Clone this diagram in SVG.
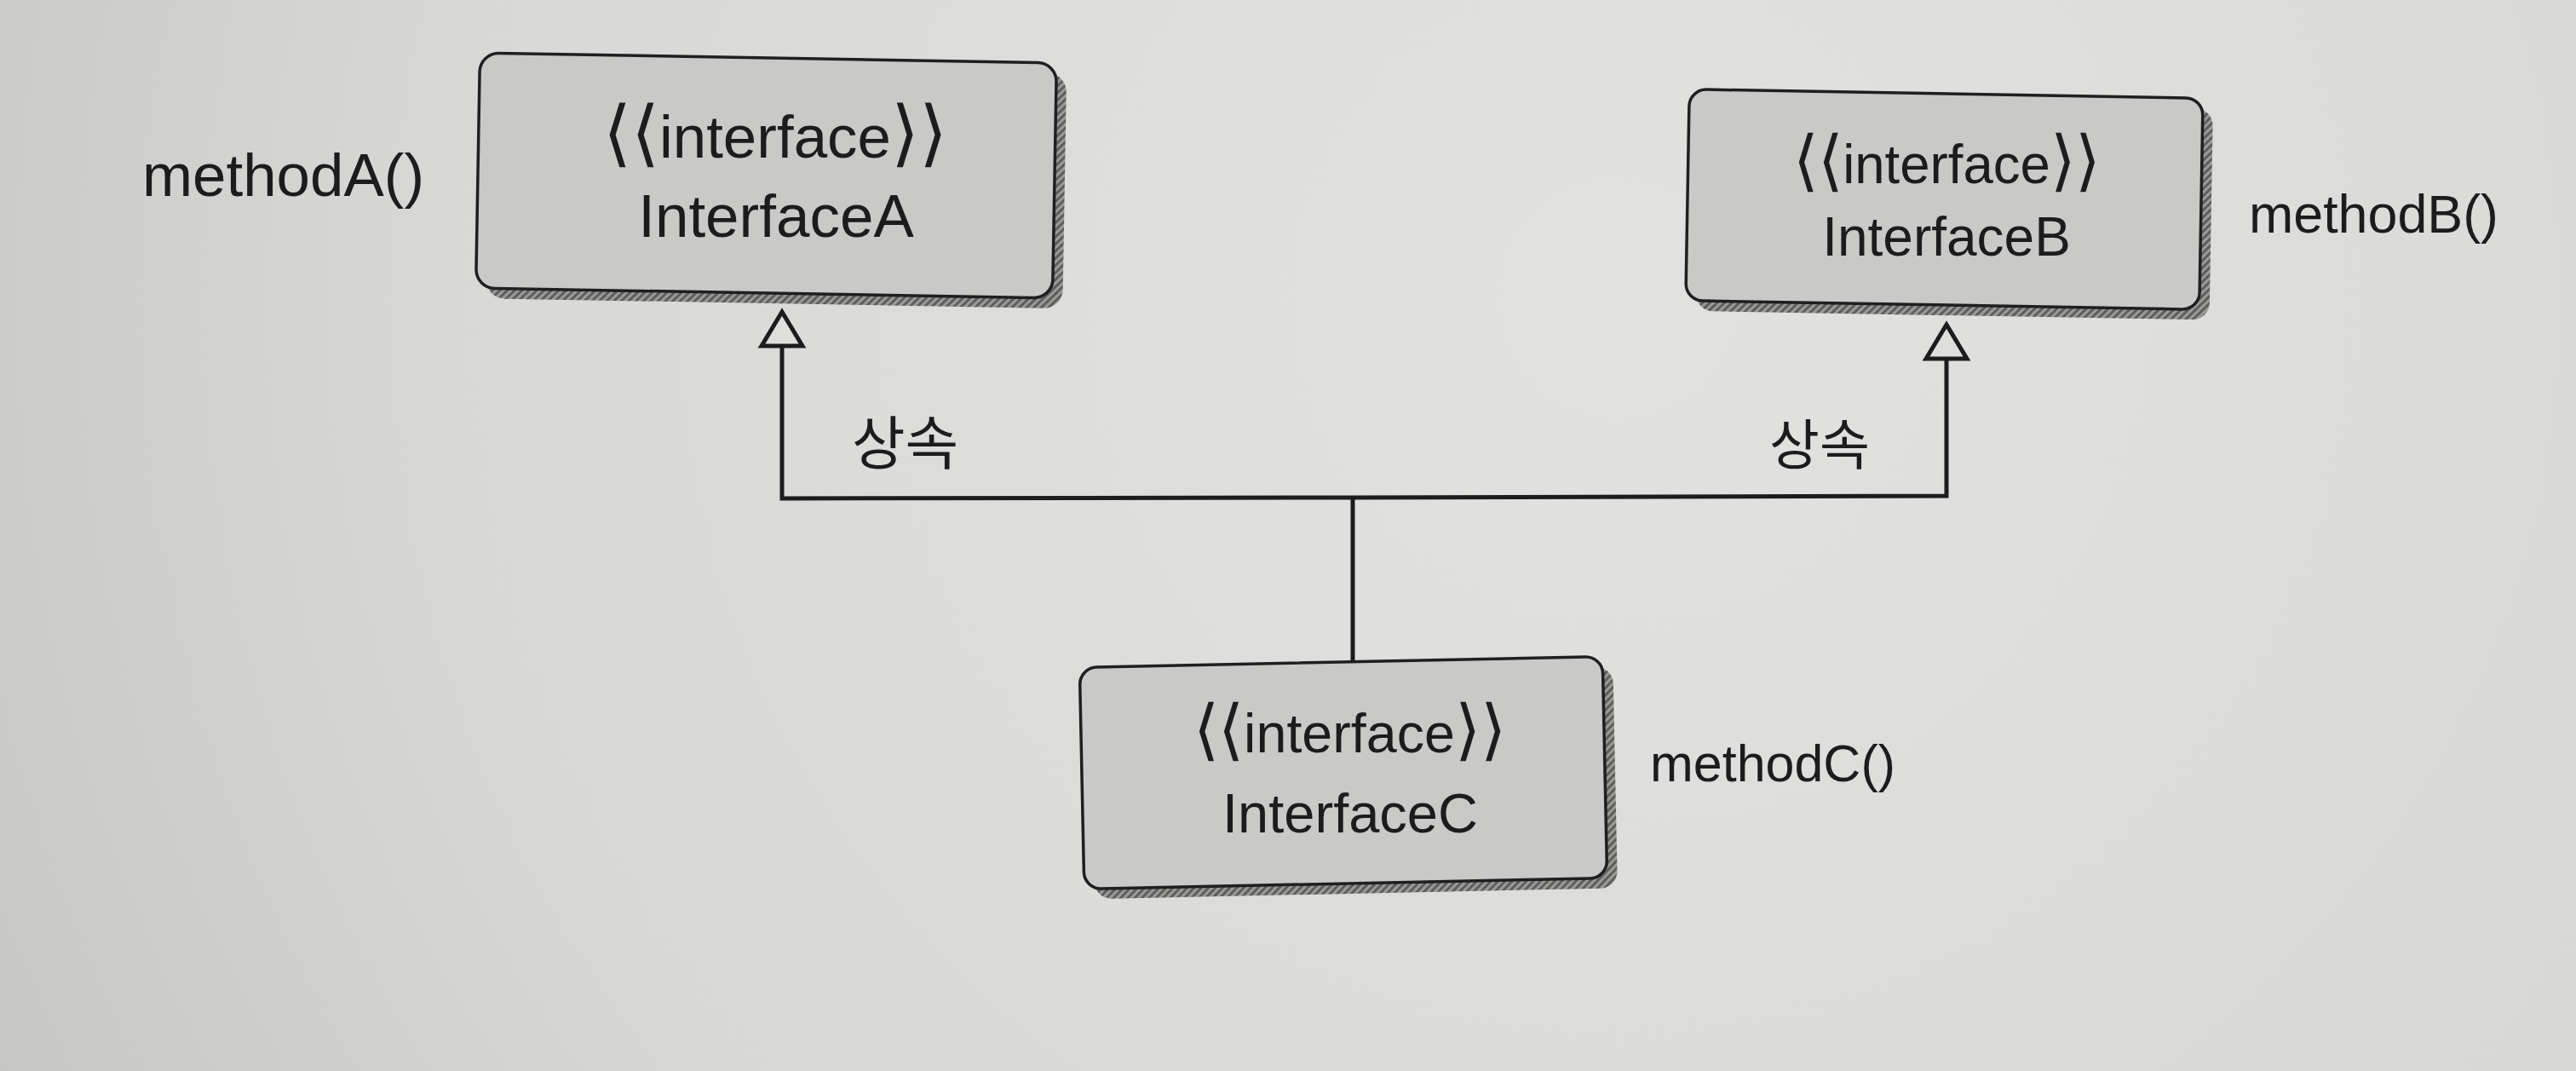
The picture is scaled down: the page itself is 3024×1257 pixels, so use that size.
<svg xmlns="http://www.w3.org/2000/svg" width="3024" height="1257" viewBox="0 0 3024 1257">
  <defs>
    <radialGradient id="bg" cx="1900" cy="350" r="2300" gradientUnits="userSpaceOnUse">
      <stop offset="0" stop-color="#e2e2e0"/>
      <stop offset="0.6" stop-color="#d8d8d6"/>
      <stop offset="1" stop-color="#c2c2c0"/>
    </radialGradient>
    <pattern id="hatch" width="6" height="6" patternUnits="userSpaceOnUse" patternTransform="rotate(45)">
      <rect width="6" height="6" fill="#9a9a98"/>
      <rect width="3" height="6" fill="#5e5e5c"/>
    </pattern>
    <marker id="tri" markerUnits="userSpaceOnUse" markerWidth="60" markerHeight="60" viewBox="-5 -30 55 60" refX="40" refY="0" orient="auto" overflow="visible">
      <path d="M0,-24 L40,0 L0,24 Z" fill="#dededc" stroke="#1c1c1c" stroke-width="5" stroke-linejoin="miter"/>
    </marker>
  </defs>
  <style>
    .shadow { fill: url(#hatch); }
    .box { fill: #c9c9c7; stroke: #1f1f1f; stroke-width: 3.5; }
    .t { font-family: "Liberation Sans", Arial, "DejaVu Sans", sans-serif; fill: #1c1c1c; text-anchor: middle; }
    .br { font-family: "DejaVu Sans", sans-serif; font-weight: 200; font-size: 1.2em; }
    .m { font-family: "Liberation Sans", Arial, sans-serif; fill: #1c1c1c; }
    .k { font-family: "Noto Sans CJK KR", "Noto Sans", sans-serif; fill: #1c1c1c; }
    .conn { fill: none; stroke: #1c1c1c; stroke-width: 5; stroke-linejoin: miter; }
  </style>

  <rect x="0" y="0" width="3024" height="1257" fill="url(#bg)"/>

  <g id="connectors">
    <path class="conn" d="M1588,775 L1588,584" stroke-width="4"/>
    <path class="conn" d="M1588,584 L918,585 L918,366" marker-end="url(#tri)"/>
    <path class="conn" d="M1588,584 L2285,582 L2285,381" marker-end="url(#tri)"/>
  </g>

  <g id="interfaceA">
    <g transform="rotate(1 900 206)">
      <rect class="shadow" x="573" y="80" width="677" height="276" rx="22"/>
      <rect class="box" x="561" y="68" width="677" height="276" rx="22"/>
    </g>
    <text class="t" x="910" y="185" font-size="71" textLength="404" lengthAdjust="spacingAndGlyphs"><tspan class="br">⟨⟨</tspan>interface<tspan class="br">⟩⟩</tspan></text>
    <text class="t" x="911" y="278" font-size="71">InterfaceA</text>
  </g>

  <g id="interfaceB">
    <g transform="rotate(1 2282 234)">
      <rect class="shadow" x="1993" y="122" width="603" height="248" rx="20"/>
      <rect class="box" x="1981" y="110" width="603" height="248" rx="20"/>
    </g>
    <text class="t" x="2285" y="215" font-size="65" textLength="361" lengthAdjust="spacingAndGlyphs"><tspan class="br">⟨⟨</tspan>interface<tspan class="br">⟩⟩</tspan></text>
    <text class="t" x="2285" y="300" font-size="64">InterfaceB</text>
  </g>

  <g id="interfaceC">
    <g transform="rotate(-1.2 1577 907)">
      <rect class="shadow" x="1282" y="789" width="614" height="260" rx="20"/>
      <rect class="box" x="1270" y="777" width="614" height="260" rx="20"/>
    </g>
    <text class="t" x="1584" y="883" font-size="65" textLength="367" lengthAdjust="spacingAndGlyphs"><tspan class="br">⟨⟨</tspan>interface<tspan class="br">⟩⟩</tspan></text>
    <text class="t" x="1585" y="977" font-size="65">InterfaceC</text>
  </g>

  <g id="labels">
    <text class="m" x="167" y="230" font-size="70" textLength="331" lengthAdjust="spacingAndGlyphs">methodA()</text>
    <text class="m" x="2640" y="273" font-size="63" textLength="293" lengthAdjust="spacingAndGlyphs">methodB()</text>
    <text class="m" x="1937" y="917" font-size="62" textLength="288" lengthAdjust="spacingAndGlyphs">methodC()</text>
    <text class="k" x="1000" y="545" font-size="68">상속</text>
    <text class="k" x="2077" y="545" font-size="64">상속</text>
  </g>
</svg>
